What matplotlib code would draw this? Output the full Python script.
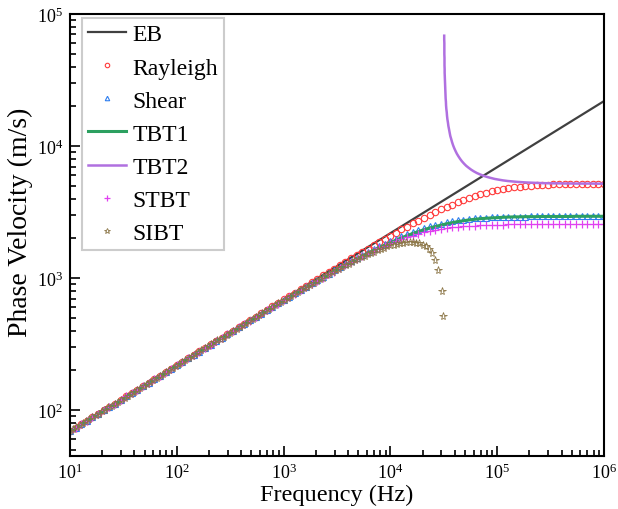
import matplotlib
matplotlib.use('Agg')
import matplotlib.pyplot as plt

plt.rcParams['font.family'] = 'Liberation Serif'
plt.rcParams['mathtext.fontset'] = 'custom'
plt.rcParams['mathtext.rm'] = 'Liberation Serif'
plt.rcParams['mathtext.it'] = 'Liberation Serif:italic'

# ---------------- data (frequency in Hz, phase velocity in m/s) ----------------
freq = [10, 11.3, 12.7, 14.4, 16.2, 18.3, 20.7, 23.4, 26.4, 29.8, 33.6, 37.9, 42.8, 48.3, 54.6, 61.6, 69.5, 78.5, 88.6,
        100, 113, 127, 144, 162, 183, 207, 234, 264, 298, 336, 379, 428, 483, 546, 616, 695, 785, 886,
        1000, 1130, 1270, 1440, 1620, 1830, 2070, 2340, 2640, 2980, 3360, 3790, 4280, 4830, 5460, 6160, 6950, 7850, 8860,
        10000, 11300, 12700, 14400, 16200, 18300, 20700, 23400, 26400, 29800, 33600, 37900, 42800, 48300, 54600, 61600, 69500, 78500, 88600,
        100000, 113000, 127000, 144000, 162000, 183000, 207000, 234000, 264000, 298000, 336000, 379000, 428000, 483000, 546000, 616000, 695000, 785000, 886000,
        1000000]

eb_freq = [10, 1000, 1000000]
eb = [69.2, 692, 21900]

rayleigh = [69.2, 73.5, 78.1, 83, 88.2, 93.7, 99.6, 106, 112, 119, 127, 135, 143, 152, 162, 172, 182, 194, 206, 219, 232, 247,
            262, 279, 296, 315, 334, 355, 377, 401, 426, 452, 480, 510, 542, 575, 611, 649, 689, 732, 777, 825, 876, 930, 987, 1050,
            1110, 1180, 1250, 1330, 1410, 1490, 1580, 1670, 1770, 1870, 1980, 2090, 2210, 2340, 2460, 2600, 2730, 2870, 3020,
            3160, 3310, 3460, 3610, 3760, 3910, 4050, 4180, 4310, 4430, 4540, 4640, 4730, 4800, 4870, 4930, 4980, 5020, 5050,
            5080, 5100, 5120, 5130, 5150, 5150, 5160, 5170, 5170, 5180, 5180, 5180]

shear = [69.2, 73.5, 78.1, 83, 88.2, 93.7, 99.6, 106, 112, 119, 127, 135, 143, 152, 162, 172, 182, 194, 206, 219, 232, 247,
         262, 278, 296, 314, 333, 354, 376, 399, 424, 450, 478, 507, 539, 572, 607, 644, 683, 724, 768, 814, 862, 914, 968, 1020,
         1080, 1150, 1210, 1280, 1350, 1420, 1500, 1580, 1660, 1740, 1820, 1910, 1990, 2080, 2160, 2240, 2320, 2400, 2470,
         2530, 2590, 2650, 2690, 2740, 2770, 2800, 2830, 2850, 2870, 2880, 2890, 2900, 2910, 2920, 2920, 2920, 2930, 2930,
         2930, 2930, 2930, 2930, 2940, 2940, 2940, 2940, 2940, 2940, 2940, 2940]

tbt1 = [69.2, 73.5, 78.1, 83, 88.2, 93.7, 99.5, 106, 112, 119, 127, 135, 143, 152, 162, 172, 182, 194, 206, 219, 232, 247,
        262, 278, 295, 314, 333, 354, 376, 399, 423, 449, 477, 506, 537, 570, 605, 641, 680, 721, 764, 809, 857, 907, 960, 1010,
        1070, 1130, 1200, 1260, 1330, 1400, 1470, 1550, 1620, 1700, 1780, 1860, 1940, 2020, 2100, 2180, 2250, 2330, 2400,
        2460, 2520, 2580, 2630, 2680, 2720, 2760, 2790, 2820, 2840, 2860, 2870, 2890, 2900, 2910, 2910, 2920, 2920, 2920,
        2930, 2930, 2930, 2930, 2930, 2930, 2940, 2940, 2940, 2940, 2940, 2940]

stbt = [69.2, 73.5, 78.1, 83, 88.2, 93.7, 99.5, 106, 112, 119, 127, 135, 143, 152, 162, 172, 182, 194, 206, 219, 232, 247,
        262, 278, 295, 314, 333, 354, 376, 399, 423, 449, 477, 506, 537, 570, 605, 641, 680, 720, 763, 808, 856, 906, 959, 1010,
        1070, 1120, 1190, 1260, 1320, 1390, 1460, 1540, 1610, 1680, 1760, 1830, 1900, 1970, 2040, 2100, 2160, 2220, 2270,
        2320, 2360, 2390, 2420, 2450, 2470, 2480, 2500, 2510, 2520, 2530, 2540, 2540, 2550, 2550, 2550, 2550, 2550, 2550,
        2550, 2550, 2550, 2550, 2560, 2560, 2560, 2560, 2560, 2560, 2560, 2560]

tbt2_freq = [31900, 31900, 32000, 32000, 32000, 32000, 32100, 32100, 32100, 32200, 32200, 32300, 32400, 32500, 32600,
             32700, 32800, 32900, 33100, 33200, 33400, 33700, 33900, 34200, 34600, 34900, 35400, 35900, 36400, 37100, 37800,
             38700, 39600, 40700, 41900, 43400, 45000, 46800, 48900, 51200, 54000, 57000, 60500, 64500, 69100, 74300, 80200,
             86900, 94600, 103000, 113000, 125000, 138000, 152000, 169000, 188000, 210000, 235000, 263000, 295000, 332000,
             373000, 421000, 475000, 537000, 607000, 687000, 778000, 882000, 1000000]
tbt2 = [68500, 64200, 60200, 56400, 52900, 49600, 46500, 43600, 40900, 38300, 35900, 33700, 31600, 29700, 27800,
        26100, 24500, 23000, 21600, 20300, 19100, 18000, 16900, 15900, 15000, 14200, 13400, 12600, 11900, 11300, 10700,
        10100, 9640, 9180, 8750, 8350, 7990, 7660, 7360, 7090, 6850, 6630, 6430, 6250, 6100, 5960, 5840, 5740,
        5640, 5570, 5500, 5440, 5400, 5360, 5330, 5300, 5280, 5260, 5240, 5230, 5220, 5220, 5210, 5210,
        5200, 5200, 5200, 5200, 5190, 5190]

sibt_freq = [10, 10.7, 11.5, 12.3, 13.2, 14.1, 15.1, 16.2, 17.4, 18.6, 20, 21.4, 22.9, 24.5, 26.3, 28.2, 30.2, 32.4, 34.7,
             37.2, 39.8, 42.7, 45.7, 49, 52.5, 56.2, 60.3, 64.6, 69.2, 74.1, 79.4, 85.1, 91.2, 97.7, 105, 112, 120, 129, 138, 148,
             158, 170, 182, 195, 209, 224, 240, 257, 275, 295, 316, 339, 363, 389, 417, 447, 479, 513, 550, 589, 631, 676, 724, 776,
             832, 891, 955, 1020, 1100, 1170, 1260, 1350, 1450, 1550, 1660, 1780, 1910, 2040, 2190, 2340, 2510, 2690, 2880, 3090,
             3310, 3550, 3800, 4070, 4370, 4680, 5010, 5370, 5750, 6170, 6610, 7080, 7590, 8130, 8710, 9330, 10000, 10700,
             11500, 12300, 13200, 14100, 15100, 16200, 17400, 18600, 20000, 21400, 22900, 24500, 26300, 28200, 30200, 31100]
sibt = [69.2, 71.6, 74.2, 76.8, 79.5, 82.3, 85.1, 88.1, 91.2, 94.4, 97.8, 101, 105, 108, 112, 116, 120, 124, 129, 133, 138,
        143, 148, 153, 158, 164, 170, 176, 182, 188, 195, 202, 209, 216, 224, 231, 240, 248, 257, 266, 275, 284, 294, 305, 315,
        326, 338, 349, 361, 374, 387, 400, 414, 429, 444, 459, 475, 491, 508, 525, 544, 562, 581, 601, 622, 643, 665, 687, 710,
        734, 759, 784, 810, 837, 864, 893, 922, 952, 982, 1010, 1050, 1080, 1110, 1150, 1180, 1220, 1250, 1290, 1330, 1370,
        1400, 1440, 1480, 1520, 1560, 1590, 1630, 1670, 1700, 1740, 1770, 1790, 1820, 1840, 1860, 1870, 1880, 1870, 1860,
        1830, 1790, 1740, 1650, 1540, 1380, 1160, 794, 518]

# ---------------- figure ----------------
fig = plt.figure(figsize=(6.18, 5.10), dpi=100)
ax = fig.add_axes([70/618, 1-457/510, 534/618, 442/510])
ax.plot(eb_freq, eb, color='#404040', lw=1.6, label='EB')
ax.plot(freq, rayleigh, ls='none', marker='o', mfc='none', mec='#ff3b3b', ms=4.6, mew=0.8, label='Rayleigh')
ax.plot(freq, shear, ls='none', marker='^', mfc='none', mec='#2f7ff0', ms=4.6, mew=0.8, label='Shear')
ax.plot(freq, tbt1, color='#2ca060', lw=2.2, label='TBT1')
ax.plot(tbt2_freq, tbt2, color='#b070e0', lw=1.8, label='TBT2')
ax.plot(freq, stbt, ls='none', marker='+', color='#e040f0', ms=5.6, mew=0.9, label='STBT')
ax.plot(sibt_freq, sibt, ls='none', marker='*', mfc='none', mec='#8b7546', ms=5.8, mew=0.6, label='SIBT')
ax.set_xscale('log'); ax.set_yscale('log')
ax.set_xlim(10, 1e6); ax.set_ylim(45, 1e5)
ax.set_xlabel('Frequency (Hz)', fontsize=17.5, labelpad=1)
ax.set_ylabel('Phase Velocity (m/s)', fontsize=20)
ax.yaxis.set_label_coords(-0.070, 0.53)
ax.tick_params(which='both', direction='in', top=False, right=False, labelsize=13, width=1.2)
ax.tick_params(which='major', length=7, pad=5)
ax.tick_params(which='minor', length=4)
for s in ax.spines.values():
    s.set_linewidth(1.5)
leg = ax.legend(loc='upper left', bbox_to_anchor=(0.0225, 0.991), borderaxespad=0, fontsize=17, frameon=True,
                fancybox=False, edgecolor='#c0c0c0', handlelength=1.6, handletextpad=0.3, labelspacing=0.49,
                markerscale=0.7, borderpad=0.25)
leg.get_frame().set_linewidth(1.5)
fig.savefig('out.png', dpi=100)
